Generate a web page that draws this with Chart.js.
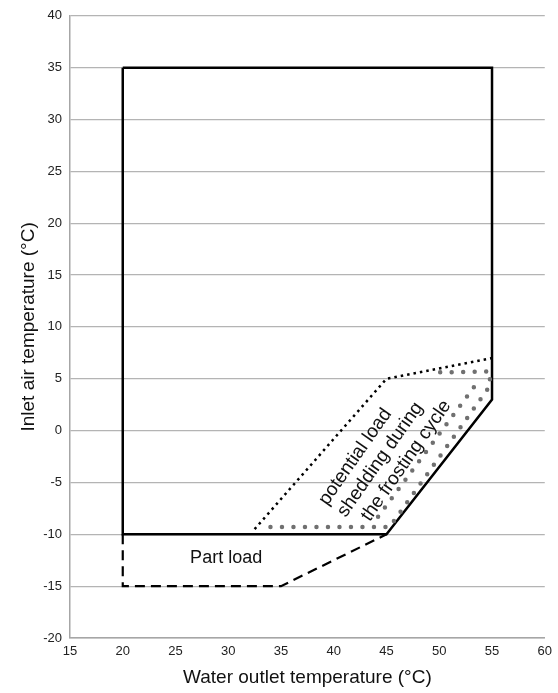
<!DOCTYPE html>
<html>
<head>
<meta charset="utf-8">
<script src="https://cdn.jsdelivr.net/npm/chart.js@4"></script>
<style>
  html, body { margin: 0; padding: 0; background: #fff; }
  #wrap { width: 558px; height: 693px; }
</style>
</head>
<body>
<div id="wrap"><canvas id="chart" width="558" height="693"></canvas></div>
<script>
// operating envelope (water outlet °C, inlet air °C)
const envelopeX = [20, 55, 55, 45, 20, 20];
const envelopeY = [35, 35, 3, -10, -10, 35];
// part load zone
const partLoadX = [20, 20, 35, 45];
const partLoadY = [-10, -15, -15, -10];
// potential load shedding zone (outer dotted border)
const sheddingX = [32.5, 45, 55];
const sheddingY = [-9.5, 5, 7];
// grey dot pattern inside the shedding zone
const dotsX = [34, 45.3, 54.8, 54.8, 49];
const dotsY = [-9.3, -9.3, 4.3, 5.7, 5.6];
const dots2X = [44.2, 53.8];
const dots2Y = [-8.3, 4.9];
const labels = ['Part load', 'potential load\nshedding during\nthe frosting cycle'];

function pts(xs, ys) {
    return xs.map((x, i) => ({ x: x, y: ys[i] }));
}

const textPlugin = {
    id: 'zoneText',
    afterDatasetsDraw(chart) {
        const ctx = chart.ctx;
        const xs = chart.scales.x, ys = chart.scales.y;
        ctx.save();
        ctx.fillStyle = '#111';
        ctx.textAlign = 'center';
        ctx.textBaseline = 'middle';
        ctx.font = '18px "Liberation Sans", Arial, sans-serif';
        ctx.fillText(labels[0], xs.getPixelForValue(29.8), ys.getPixelForValue(-12.3));

        ctx.font = '19px "Liberation Sans", Arial, sans-serif';
        ctx.translate(xs.getPixelForValue(44.4), ys.getPixelForValue(-2.8));
        ctx.rotate(-55 * Math.PI / 180);
        const lines = labels[1].split('\n');
        const shift = [-12, 0, 14];
        lines.forEach((t, i) => {
            ctx.fillText(t, shift[i], (i - 1) * 22);
        });
        ctx.restore();
    }
};

new Chart(document.getElementById('chart').getContext('2d'), {
    type: 'scatter',
    data: {
        datasets: [
            {
                data: pts(dotsX, dotsY),
                showLine: true,
                borderColor: '#707070',
                borderWidth: 4.5,
                borderDash: [0, 11.5],
                borderCapStyle: 'round',
                pointRadius: 0
            },
            {
                data: pts(dots2X, dots2Y),
                showLine: true,
                borderColor: '#707070',
                borderWidth: 4.5,
                borderDash: [0, 11.5],
                borderCapStyle: 'round',
                pointRadius: 0
            },
            {
                data: pts(sheddingX, sheddingY),
                showLine: true,
                borderColor: '#000',
                borderWidth: 2.5,
                borderDash: [2.5, 4],
                pointRadius: 0
            },
            {
                data: pts(partLoadX, partLoadY),
                showLine: true,
                borderColor: '#000',
                borderWidth: 2.2,
                borderDash: [10, 6],
                pointRadius: 0
            },
            {
                data: pts(envelopeX, envelopeY),
                showLine: true,
                borderColor: '#000',
                borderWidth: 2.5,
                borderJoinStyle: 'miter',
                pointRadius: 0
            }
        ]
    },
    options: {
        responsive: false,
        animation: false,
        layout: { padding: { top: 11, right: 12, left: 0, bottom: 0 } },
        plugins: {
            legend: { display: false },
            tooltip: { enabled: false }
        },
        scales: {
            x: {
                type: 'linear',
                min: 15,
                max: 60,
                afterFit: s => { s.height = 55; },
                grid: { display: false, drawTicks: false },
                border: { display: true, color: '#a6a6a6', width: 1.5 },
                ticks: {
                    stepSize: 5,
                    color: '#222',
                    padding: 6,
                    font: { family: '"Liberation Sans", Arial, sans-serif', size: 13 }
                },
                title: {
                    display: true,
                    text: 'Water outlet temperature (°C)',
                    color: '#111',
                    padding: { top: 10 },
                    font: { family: '"Liberation Sans", Arial, sans-serif', size: 19 }
                }
            },
            y: {
                type: 'linear',
                min: -20,
                max: 40,
                afterFit: s => { s.width = 70; },
                grid: { color: '#b4b4b4', lineWidth: 1.2, drawTicks: false },
                border: { display: true, color: '#a6a6a6', width: 1.5 },
                ticks: {
                    stepSize: 5,
                    color: '#222',
                    padding: 8,
                    font: { family: '"Liberation Sans", Arial, sans-serif', size: 13 }
                },
                title: {
                    display: true,
                    text: 'Inlet air temperature (°C)',
                    color: '#111',
                    padding: { top: 17, bottom: 4 },
                    font: { family: '"Liberation Sans", Arial, sans-serif', size: 19 }
                }
            }
        }
    },
    plugins: [textPlugin]
});
</script>
</body>
</html>
